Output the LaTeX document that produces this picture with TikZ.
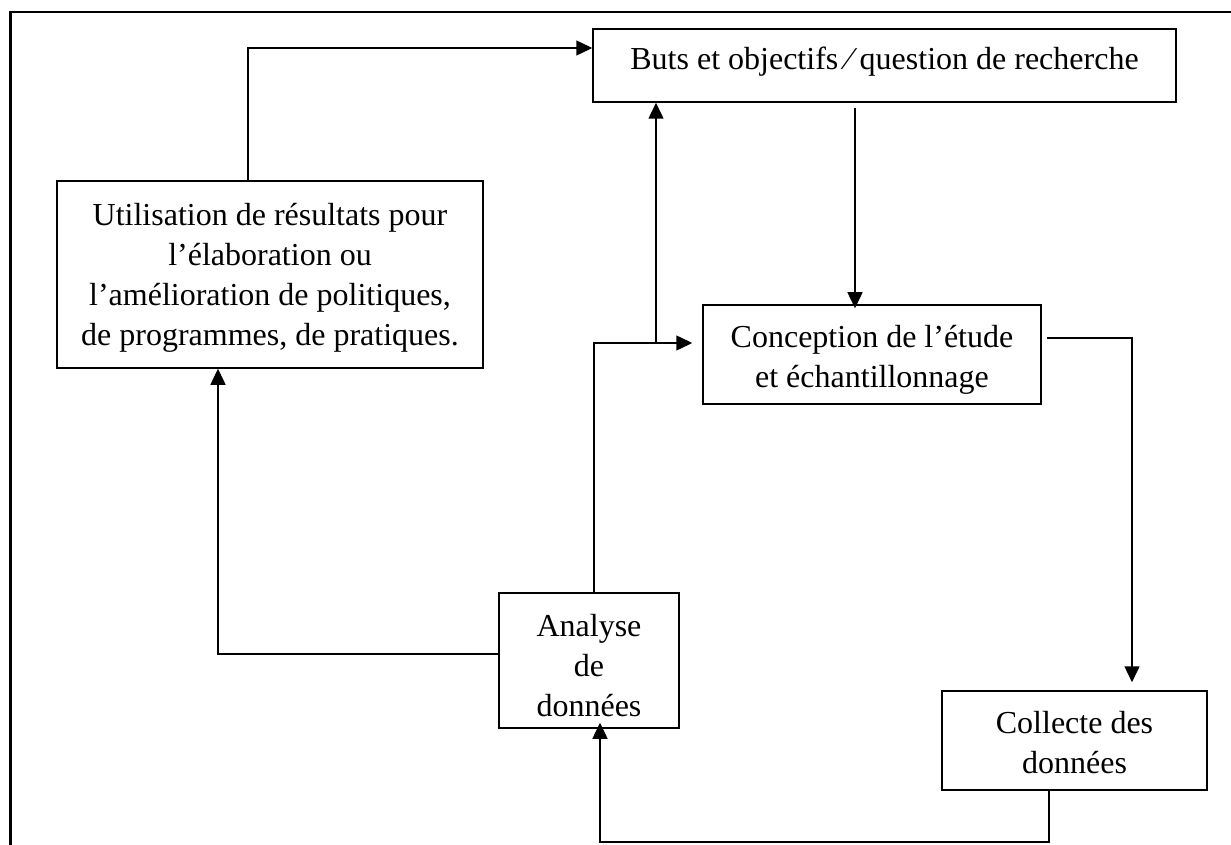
\documentclass[tikz,border=0pt]{standalone}
\usepackage{fontspec}
\setmainfont{Liberation Serif}
\usetikzlibrary{arrows.meta}

\begin{document}
\begin{tikzpicture}[x=0.5pt,y=-0.5pt,
  stagebox/.style={draw, line width=0.75pt, inner sep=0pt},
  stagetext/.style={inner sep=0pt, align=center, font=\fontsize{16}{20}\selectfont},
  link/.style={line width=0.75pt},
  arr/.style={link, -{Triangle[length=8pt,width=7.5pt]}},
  frameline/.style={line width=1.4pt}]
\useasboundingbox (0,0) rectangle (1231,845);

% outer frame (left and top edges)
\draw[frameline] (10.3,846) -- (10.3,12) -- (1232,12);

% stage boxes
\node[stagebox, minimum width=291.5pt, minimum height=36.5pt] (buts) at (884.5,65.5) {};
\node[stagebox, minimum width=213pt, minimum height=93.5pt] (util) at (270,274.5) {};
\node[stagebox, minimum width=169pt, minimum height=49.5pt] (conc) at (872,354.5) {};
\node[stagebox, minimum width=90pt, minimum height=67.5pt] (anal) at (589,660.5) {};
\node[stagebox, minimum width=132.5pt, minimum height=49.5pt] (coll) at (1074.5,740.5) {};

% stage texts
\node[stagetext] (butst) at ([yshift=1.75pt]buts.center) {Buts et objectifs ⁄ question de recherche};
\node[stagetext] (utilt) at ([yshift=-1.75pt]util.center) {Utilisation de résultats pour\\l’élaboration ou\\l’amélioration de politiques,\\de programmes, de pratiques.};
\node[stagetext] (conct) at ([yshift=-2.5pt]conc.center) {Conception de l’étude\\et échantillonnage};
\node[stagetext] (analt) at ([yshift=-2.5pt]anal.center) {Analyse\\de\\données};
\node[stagetext] (collt) at ([yshift=-1.25pt]coll.center) {Collecte des\\données};

% bend points of the connectors
\coordinate (k1) at (248,48);
\coordinate (k2) at (855,108);
\coordinate (k3) at (656,343);
\coordinate (k4) at (594,343);
\coordinate (k5a) at (1047,338);
\coordinate (k5) at (1132,338);
\coordinate (k6) at (1049,842);
\coordinate (k6b) at (600,842);
\coordinate (k7) at (218,654);

% connectors
\draw[arr] (k1 |- util.north) |- (buts.west |- k1);
\draw[arr, shorten >=-2pt] (k2) -- (k2 |- conc.north);
\draw[arr] (k3) -- (k3 |- buts.south);
\draw[arr, shorten >=5pt] (k4 |- anal.north) |- (conc.west |- k4);
\draw[arr, shorten >=4pt] (k5a) -- (k5) -- (k5 |- coll.north);
\draw[arr, shorten >=-3pt] (k6 |- coll.south) -- (k6) -- (k6b) -- (k6b |- anal.south);
\draw[arr] (anal.west |- k7) -| (util.south -| k7);
\end{tikzpicture}
\end{document}
